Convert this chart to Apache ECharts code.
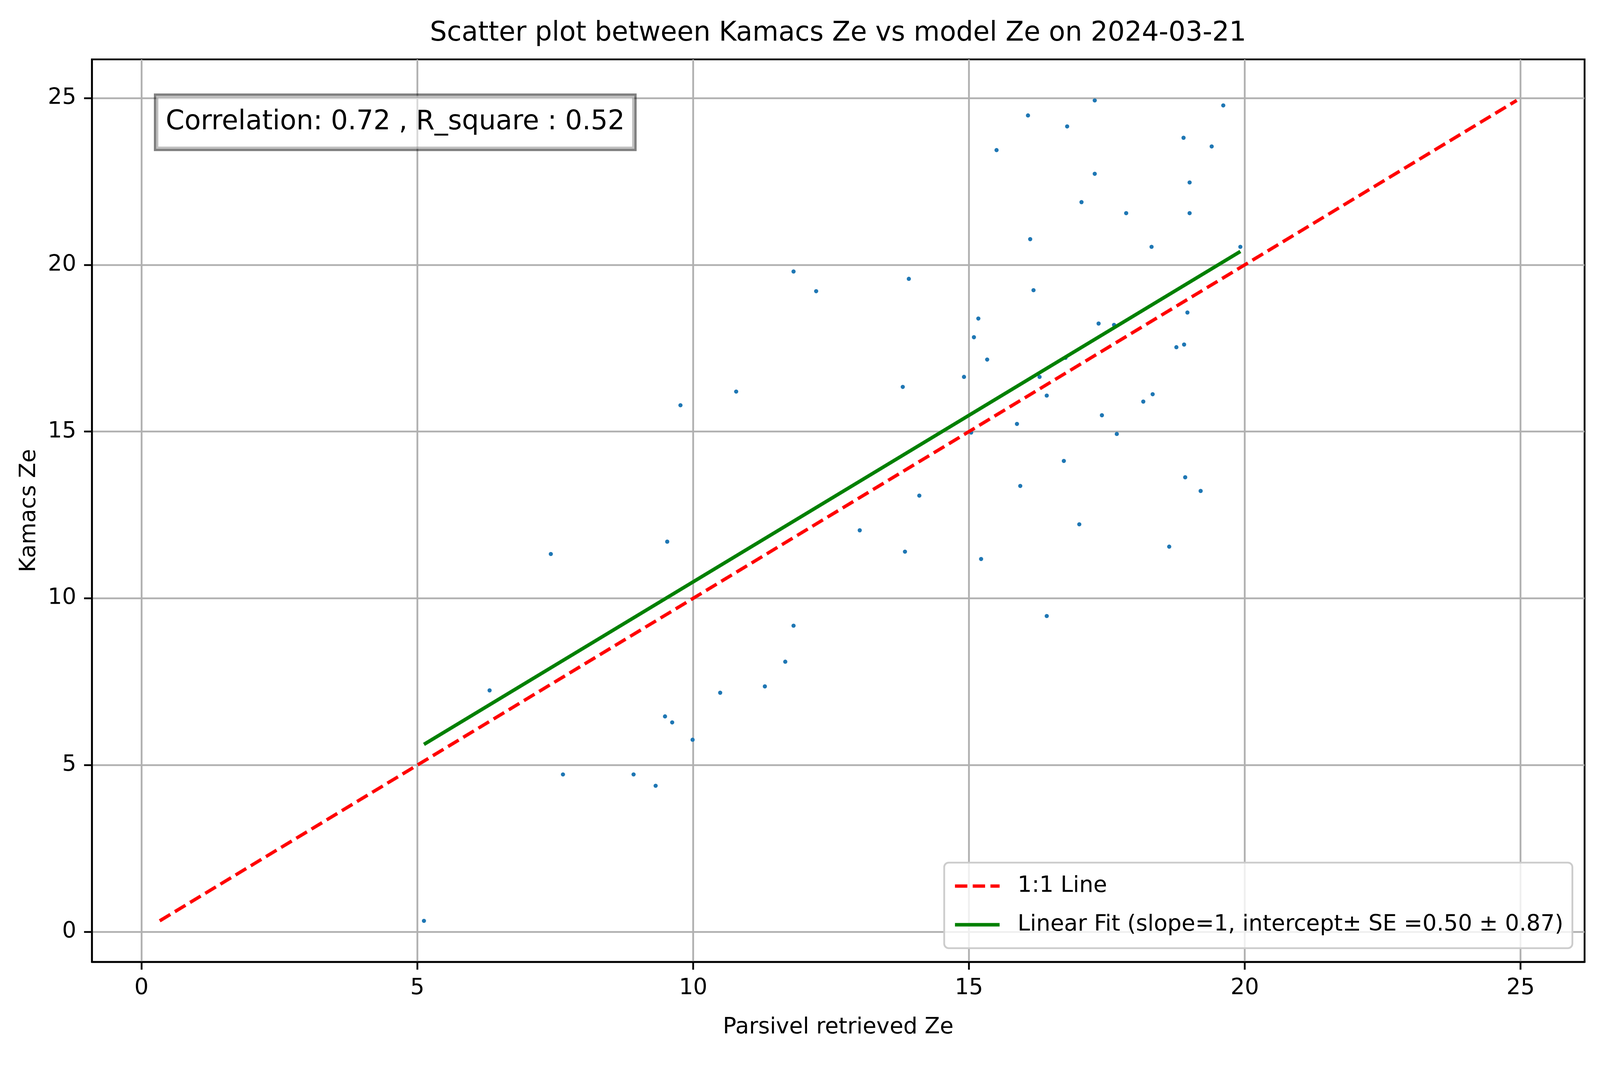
<!DOCTYPE html>
<html>
<head>
<meta charset="utf-8">
<script src="https://cdn.jsdelivr.net/npm/echarts@6/dist/echarts.min.js"></script>
<style>
  html, body { margin: 0; padding: 0; background: #fff; overflow: hidden; }
  #chart { width: 100vw; height: 100vh; }
</style>
</head>
<body>
<div id="chart"></div>
<script>
// ---- data ----
const parsivelZe = [
    5.12, 6.31, 7.42, 7.64, 8.92, 9.32, 9.49, 9.62, 9.53, 9.77,
    9.99, 10.49, 10.78, 11.30, 11.67, 11.82, 11.82, 12.23, 13.02, 13.80,
    13.84, 13.91, 14.10, 14.91, 15.04, 15.09, 15.17, 15.22, 15.33, 15.50,
    15.87, 15.93, 16.07, 16.11, 16.17, 16.28, 16.41, 16.41, 16.72, 16.75,
    16.78, 17.00, 17.04, 17.28, 17.28, 17.35, 17.41, 17.63, 17.68, 17.85,
    18.16, 18.31, 18.33, 18.63, 18.76, 18.89, 18.90, 18.92, 18.96, 19.00,
    19.00, 19.20, 19.40, 19.61, 19.92
];
const kamacsZe = [
    0.33, 7.24, 11.33, 4.72, 4.72, 4.38, 6.46, 6.28, 11.70, 15.79,
    5.76, 7.17, 16.20, 7.36, 8.10, 9.18, 19.80, 19.21, 12.04, 16.34,
    11.40, 19.58, 13.08, 16.64, 14.97, 17.83, 18.39, 11.18, 17.16, 23.44,
    15.23, 13.37, 24.48, 20.77, 19.24, 16.64, 16.08, 9.47, 14.12, 17.21,
    24.15, 12.22, 21.88, 24.93, 22.73, 18.24, 15.49, 18.20, 14.93, 21.55,
    15.90, 20.54, 16.12, 11.55, 17.53, 23.81, 17.61, 13.63, 18.57, 21.55,
    22.47, 13.22, 23.55, 24.78, 20.54
];
const oneToOneLine = [0.33, 24.93];
const fitX = [5.12, 19.92];
const fitY = [5.62, 20.40];
const tickValues = [0, 5, 10, 15, 20, 25];

const titleText = 'Scatter plot between Kamacs Ze vs model Ze on 2024-03-21';
const statsText = 'Correlation: 0.72 , R_square : 0.52';
const legendNames = ['1:1 Line', 'Linear Fit (slope=1, intercept\u00b1 SE =0.50 \u00b1 0.87)'];

// ---- styling (matplotlib @ 500 dpi, 4981 x 2726 page mapped onto the window) ----
const FONT = 'DejaVu Sans';
const SX = window.innerWidth / 4981;
const SY = window.innerHeight / 2726;
const PT = 500 / 72 * SX;           // fonts and strokes follow the width
const sx = v => v * SX;
const sy = v => v * SY;

const redDash = [3.7 * 1.5 * PT, 1.6 * 1.5 * PT];

function axisStyle(name, extra) {
    return Object.assign({
        type: 'value',
        min: -0.9,
        max: 26.16,
        name: name,
        nameLocation: 'middle',
        nameTextStyle: { fontFamily: FONT, fontSize: 10 * PT, color: '#000' },
        axisLine: { show: true, onZero: false, lineStyle: { color: '#000', width: 0.8 * PT } },
        axisTick: {
            show: true, inside: false, length: 3.5 * PT,
            customValues: tickValues,
            lineStyle: { color: '#000', width: 0.8 * PT }
        },
        axisLabel: {
            customValues: tickValues,
            fontFamily: FONT, fontSize: 10 * PT, color: '#000',
            margin: 7 * PT
        },
        splitLine: { show: true, lineStyle: { color: '#b0b0b0', width: 0.8 * PT } }
    }, extra);
}

const chart = echarts.init(document.getElementById('chart'));

const points = parsivelZe.map((x, i) => [x, kamacsZe[i]]);

// legend box keeps its reference height (219) and row spacing (99)
const legendRow = sx(70);
const legendGap = sy(99) - legendRow;
const legendPadV = (sy(219) - 2 * legendRow - legendGap) / 2;

// stats box keeps its reference height (136)
const statsLine = sx(96);
const statsPadV = (sy(136) - statsLine) / 2;

chart.setOption({
    animation: false,
    backgroundColor: '#fff',
    grid: {
        left: sx(286), right: sx(48), top: sy(152), bottom: sy(264),
        show: true,
        borderColor: '#000',
        borderWidth: 0.8 * PT,
        backgroundColor: 'transparent'
    },
    xAxis: axisStyle('Parsivel retrieved Ze', { nameGap: sy(140) }),
    yAxis: axisStyle('Kamacs Ze', { nameGap: sx(160), nameRotate: 90 }),
    legend: {
        data: [
            {
                name: legendNames[0],
                itemStyle: { opacity: 0 },
                lineStyle: { color: '#ff0000', width: 1.5 * PT, type: redDash }
            },
            {
                name: legendNames[1],
                itemStyle: { opacity: 0 },
                lineStyle: { color: '#008000', width: 1.6 * PT, type: 'solid' }
            }
        ],
        orient: 'vertical',
        right: sx(86),
        bottom: sy(299),
        align: 'left',
        itemWidth: 20 * PT,
        itemHeight: legendRow,
        itemGap: legendGap,
        padding: [legendPadV, sx(28), legendPadV, sx(28)],
        backgroundColor: 'rgba(255,255,255,0.8)',
        borderColor: '#cccccc',
        borderWidth: 0.8 * PT,
        borderRadius: sx(14),
        textStyle: {
            fontFamily: FONT, fontSize: 10 * PT, color: '#000',
            lineHeight: legendRow, padding: [0, 0, 0, sx(50)]
        }
    },
    graphic: [
        {
            type: 'text',
            x: sx(2609),
            y: sy(86),
            style: {
                text: titleText,
                fontFamily: FONT, fontSize: 12 * PT, fill: '#000',
                align: 'center', verticalAlign: 'middle'
            }
        },
        {
            type: 'text',
            x: sx(486),
            y: sy(245),
            z: 100,
            style: {
                text: statsText,
                fontFamily: FONT, fontSize: 12 * PT, fill: '#000',
                lineHeight: statsLine,
                align: 'left', verticalAlign: 'top',
                padding: [statsPadV, sx(30), statsPadV, sx(30)],
                backgroundColor: 'rgba(255,255,255,0.5)',
                borderColor: 'rgba(0,0,0,0.5)',
                borderWidth: PT
            }
        }
    ],
    series: [
        {
            name: 'Kamacs vs Parsivel',
            type: 'scatter',
            data: points,
            symbolSize: sx(13),
            itemStyle: { color: '#1f77b4', opacity: 1 },
            z: 2
        },
        {
            name: legendNames[0],
            type: 'line',
            data: oneToOneLine.map(v => [v, v]),
            symbol: 'none',
            lineStyle: { color: '#ff0000', width: 1.5 * PT, type: redDash },
            itemStyle: { color: '#ff0000' },
            z: 3
        },
        {
            name: legendNames[1],
            type: 'line',
            data: fitX.map((x, i) => [x, fitY[i]]),
            symbol: 'none',
            lineStyle: { color: '#008000', width: 1.6 * PT },
            itemStyle: { color: '#008000' },
            z: 4
        }
    ]
});
</script>
</body>
</html>
